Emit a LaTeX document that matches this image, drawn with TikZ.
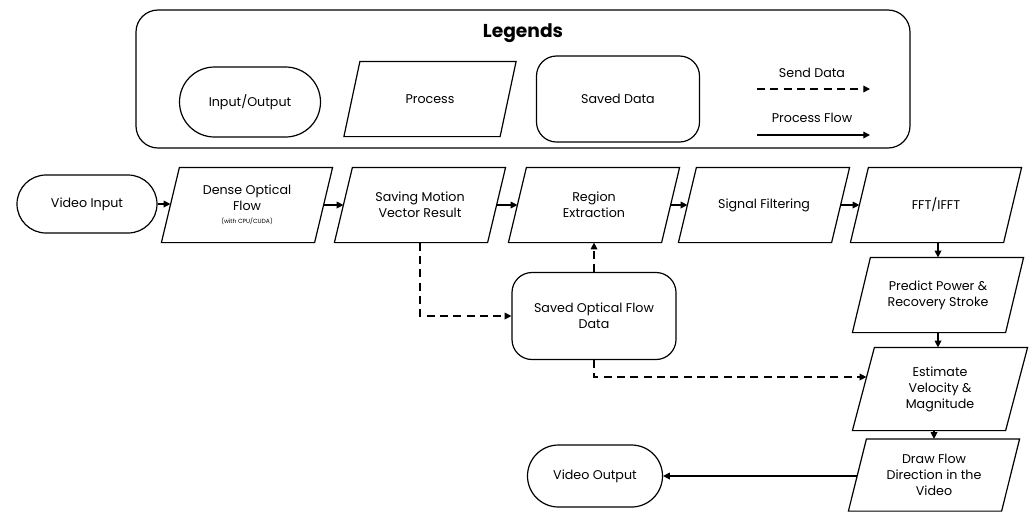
\documentclass[tikz,border=0pt]{standalone}
\usepackage{fontspec}
\setmainfont{Poppins}
\usetikzlibrary{shapes.misc,arrows.meta,calc}
\newdimen\pu \pu=0.75pt
\newcommand{\pgram}[2]{\draw[line width=0.9pt] ($(#1.south west)+(-#2,0)$) -- ($(#1.south east)+(-#2,0)$) -- ($(#1.north east)+(#2,0)$) -- ($(#1.north west)+(#2,0)$) -- cycle;}
\begin{document}
\begin{tikzpicture}[x=0.75pt,y=-0.75pt,
  every node/.style={font=\fontsize{9.5}{12}\selectfont, align=center, line width=0.9pt},
  io/.style={draw, rounded rectangle, minimum width=140*\pu, minimum height=60*\pu, inner sep=0pt},
  proc/.style={rectangle, minimum width=152*\pu, minimum height=74*\pu, inner sep=0pt},
  saved/.style={draw, rounded corners=20*\pu, minimum width=164*\pu, minimum height=87*\pu, inner sep=0pt},
  flow/.style={line width=0.9pt, -{Triangle[length=5pt,width=5pt]}},
  send/.style={flow, dash pattern=on 6pt off 4pt},
  txt/.style={inner sep=0pt}
]
\useasboundingbox (0,0) rectangle (1035,512);
% legend
\node[draw, rounded corners=22*\pu, minimum width=774*\pu, minimum height=138*\pu] (legend) at (523,79) {};
\node[txt, font=\fontsize{14}{16}\selectfont\bfseries] (ltitle) at (523,33) {Legends};
\node[io, minimum width=141*\pu, minimum height=70*\pu] (lio) at (250,102) {Input/Output};
\node[proc, minimum width=155*\pu] (lproc) at (430,99) {Process};
\pgram{lproc}{8}
\node[saved, minimum width=163*\pu, minimum height=86*\pu] (lsaved) at (618,99) {Saved Data};
\node[txt] (lsend) at (812,73) {Send Data};
\node[txt] (lflow) at (812,118) {Process Flow};
\coordinate (s1) at (757,89); \coordinate (s2) at (870,89);
\coordinate (f1) at (757,135); \coordinate (f2) at (870,135);
\draw[send] (s1) -- (s2);
\draw[flow] (f1) -- (f2);
% main row
\node[io, minimum height=58*\pu] (vin) at (87,204) {Video Input};
\node[proc] (dof) at (247,205) {Dense Optical\\Flow\\[-2pt]{\fontsize{4.5}{5}\selectfont (with CPU/CUDA)}};
\node[proc] (smv) at (420,205) {Saving Motion\\Vector Result};
\node[proc] (rex) at (594,205) {Region\\Extraction};
\node[proc] (sfl) at (764,205) {Signal Filtering};
\node[proc] (fft) at (936,205) {FFT/IFFT};
\node[proc] (pred) at (938,295) {Predict Power \&\\Recovery Stroke};
\node[proc, minimum height=82*\pu] (est) at (940,389) {Estimate\\Velocity \&\\Magnitude};
\node[proc, minimum height=71*\pu] (dfl) at (934,475) {Draw Flow\\Direction in the\\Video};
\foreach \n in {dof,smv,rex,sfl,fft,pred,dfl} {\pgram{\n}{9}}
\pgram{est}{11}
\node[saved] (sofd) at (594,316) {Saved Optical Flow\\Data};
\node[io, minimum width=135*\pu, minimum height=62*\pu] (vout) at (595,476) {Video Output};
% connectors
\draw[flow] (vin.east) -- (dof.west |- vin.east);
\draw[flow] (dof) -- (smv);
\draw[flow] (smv) -- (rex);
\draw[flow] (rex) -- (sfl);
\draw[flow] (sfl) -- (fft);
\draw[flow] (fft.south -| pred.north) -- (pred.north);
\draw[flow] (pred.south) -- (pred.south |- est.north);
\draw[flow] (dfl.north |- est.south) -- (dfl.north);
\draw[flow] (dfl.west |- vout.east) -- (vout.east);
\draw[send] (smv.south) |- (sofd.west);
\draw[send] (sofd.north) -- (rex.south);
\coordinate (e1) at ($(est.west)+(3,-12)$);
\draw[send] (sofd.south) |- (e1);
\end{tikzpicture}
\end{document}
